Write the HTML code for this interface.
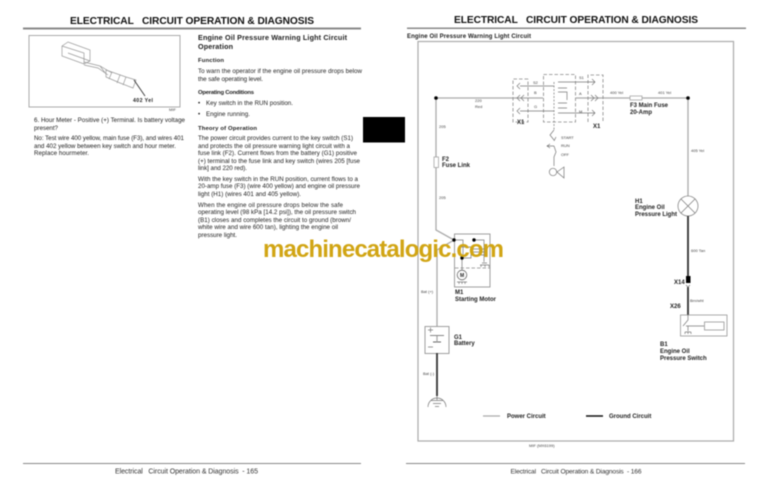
<!DOCTYPE html>
<html><head><meta charset="utf-8"><style>
html,body{margin:0;padding:0;background:#fff}
svg{display:block;filter:blur(.4px)}
text{font-family:"Liberation Sans",sans-serif;fill:#222}
.t{font-size:6.2px}
.b{font-size:5.9px;font-weight:bold}
.s{font-size:4px;fill:#444}
.h{font-size:10.2px;font-weight:bold;fill:#111}
.f{font-size:6.6px;fill:#333}
.l{font-size:6px;font-weight:bold}
.g{stroke:#aaa;stroke-width:1.3;fill:none}
.n{stroke:#777;stroke-width:.7;fill:none}
.d{stroke:#888;stroke-width:.8;fill:none;stroke-dasharray:3.5 2}
.k{stroke:#333;stroke-width:1.8;fill:none}
</style></head><body>
<svg width="768" height="497" viewBox="0 0 768 497" xmlns="http://www.w3.org/2000/svg">
<rect width="768" height="497" fill="#fff"/>
<text class="h" x="70" y="24" textLength="244">ELECTRICAL&#160;&#160;&#160;CIRCUIT OPERATION &amp; DIAGNOSIS</text>
<text class="h" x="454" y="23" textLength="244">ELECTRICAL&#160;&#160;&#160;CIRCUIT OPERATION &amp; DIAGNOSIS</text>
<rect x="23" y="27.5" width="338" height="2" fill="#888"/>
<rect x="407" y="27.5" width="339" height="1.5" fill="#888"/>
<rect x="29" y="35.5" width="151" height="71.5" fill="none" stroke="#aaa" stroke-width="1"/>
<g fill="none" stroke="#999" stroke-width=".7">
<path d="M62 46l6-4 22 8v11l-6 3-22-8z M68 53l22 8M62 46l22 7v11"/>
<path d="M84 62l16 4 12 7M84 65l14 3 10 7M100 66l6 8"/>
<path d="M106 70l20 7 10 3-3 8-13-5-14-6z M112 72l-3 7M120 75l-3 8M126 77l-3 8"/>
</g>
<path d="M134 80l11 16" stroke="#333" stroke-width=".9"/>
<text class="b" x="133" y="102" textLength="20" style="font-size:5.2px">402 Yel</text>
<text class="s" x="169" y="111">MIF</text>

<text class="t" x="34" y="122" textLength="151">6. Hour Meter - Positive (+) Terminal. Is battery voltage</text>
<text class="t" x="34" y="130" textLength="24">present?</text>
<text class="t" x="34" y="140" textLength="150">No: Test wire 400 yellow, main fuse (F3), and wires 401</text>
<text class="t" x="34" y="148" textLength="142">and 402 yellow between key switch and hour meter.</text>
<text class="t" x="34" y="155" textLength="55">Replace hourmeter.</text>

<text class="b" x="198" y="40" textLength="149" style="font-size:7.2px">Engine Oil Pressure Warning Light Circuit</text>
<text class="b" x="198" y="49" textLength="35" style="font-size:7.2px">Operation</text>
<text class="b" x="198" y="62" textLength="26">Function</text>
<text class="t" x="198" y="73" textLength="164">To warn the operator if the engine oil pressure drops below</text>
<text class="t" x="198" y="81" textLength="65">the safe operating level.</text>
<text class="b" x="198" y="94" textLength="56">Operating Conditions</text>
<text class="t" x="198" y="105">•</text><text class="t" x="206" y="105" textLength="87">Key switch in the RUN position.</text>
<text class="t" x="198" y="116">•</text><text class="t" x="206" y="116" textLength="44">Engine running.</text>
<text class="b" x="198" y="130" textLength="59">Theory of Operation</text>
<text class="t" x="198" y="140" textLength="155">The power circuit provides current to the key switch (S1)</text>
<text class="t" x="198" y="148" textLength="152">and protects the oil pressure warning light circuit with a</text>
<text class="t" x="198" y="155" textLength="159">fuse link (F2). Current flows from the battery (G1) positive</text>
<text class="t" x="198" y="163" textLength="162">(+) terminal to the fuse link and key switch (wires 205 [fuse</text>
<text class="t" x="198" y="170" textLength="49">link] and 220 red).</text>
<text class="t" x="198" y="181" textLength="160">With the key switch in the RUN position, current flows to a</text>
<text class="t" x="198" y="188" textLength="162">20-amp fuse (F3) (wire 400 yellow) and engine oil pressure</text>
<text class="t" x="198" y="196" textLength="103">light (H1) (wires 401 and 405 yellow).</text>
<text class="t" x="198" y="207" textLength="145">When the engine oil pressure drops below the safe</text>
<text class="t" x="198" y="214" textLength="158">operating level (98 kPa [14.2 psi]), the oil pressure switch</text>
<text class="t" x="198" y="222" textLength="153">(B1) closes and completes the circuit to ground (brown/</text>
<text class="t" x="198" y="229" textLength="140">white wire and wire 600 tan), lighting the engine oil</text>
<text class="t" x="198" y="237" textLength="39">pressure light.</text>

<rect x="363" y="117" width="42" height="25.5" fill="#000"/>

<text class="b" x="407" y="38" textLength="124" style="font-size:6px">Engine Oil Pressure Warning Light Circuit</text>
<rect x="418" y="41.5" width="315.5" height="399.5" fill="none" stroke="#aaa" stroke-width="1.2"/>

<!-- main power wires -->
<path class="g" d="M436 98H543M576 98H630M642 98H688V196M436 98V157M436 167V230L454 240L437 250V326"/>
<circle cx="436" cy="98" r="1.8" fill="#000"/>
<circle cx="688" cy="98" r="1.8" fill="#000"/>
<rect x="434" y="157" width="4.5" height="10.5" fill="#fff" stroke="#999" stroke-width=".7"/>
<rect x="630" y="96" width="12" height="4" fill="#fff" stroke="#999" stroke-width=".7"/>

<!-- switch S1 -->
<rect class="d" x="543.5" y="74.5" width="32" height="47.5"/>
<path class="d" d="M528 79H513V122H528V79M588 122V75H603V122"/>
<g class="n">
<path d="M520 86H554M520 83l-3 3 3 3M520 95l-3 3 3 3M524 95l-3 3 3 3M520 111H554M520 108l-3 3 3 3"/>
<path d="M558 82H595M592 79l3 3-3 3M595 95l3 3-3 3M591 95l3 3-3 3M558 113H595M592 110l3 3-3 3M558 88H567M558 92H567V100M558 103H567M558 108H567"/>
</g>
<path class="d" d="M554 82V130" style="stroke-dasharray:2 1.5"/>
<path class="n" d="M554 130l-4 5 4 5M556 137l-2 4M554 146l2 6-2 5V166M547 146H554M550 144l-3 2 3 2"/>
<circle cx="553" cy="172" r="3.7" fill="none" stroke="#777" stroke-width=".7"/>
<path class="n" d="M557 172l7-5V178z"/>

<text class="s" x="533" y="84">S2</text><text class="s" x="534" y="94">B</text><text class="s" x="534" y="108">G</text>
<text class="s" x="579" y="79">S1</text><text class="s" x="579" y="95">A</text><text class="s" x="579" y="113">M</text>
<text class="s" x="475" y="102">220</text><text class="s" x="475" y="108">Red</text>
<text class="s" x="439" y="128">205</text><text class="s" x="439" y="199">205</text>
<text class="s" x="561" y="139">START</text><text class="s" x="561" y="147">RUN</text><text class="s" x="561" y="156">OFF</text>
<text class="s" x="610" y="94">400 Yel</text><text class="s" x="658" y="94">401 Yel</text>
<text class="s" x="691" y="152">405 Yel</text><text class="s" x="691" y="252">600 Tan</text><text class="s" x="690" y="302">Brn/wht</text>
<text class="s" x="421" y="293">Bat (+)</text><text class="s" x="423" y="375">Bat (-)</text>
<text class="l" x="517" y="124">X1</text><text class="l" x="593" y="128">X1</text>
<text class="l" x="442" y="161">F2</text><text class="l" x="442" y="167">Fuse Link</text>
<text class="l" x="630" y="107">F3 Main Fuse</text><text class="l" x="630" y="114">20-Amp</text>
<text class="l" x="635" y="203">H1</text><text class="l" x="635" y="209">Engine Oil</text><text class="l" x="635" y="216">Pressure Light</text>
<text class="l" x="455" y="294">M1</text><text class="l" x="455" y="301">Starting Motor</text>
<text class="l" x="454" y="339">G1</text><text class="l" x="454" y="345">Battery</text>
<text class="l" x="660" y="346">B1</text><text class="l" x="660" y="353">Engine Oil</text><text class="l" x="660" y="360">Pressure Switch</text>
<text class="l" x="674" y="284">X14</text><text class="l" x="670" y="308">X26</text>

<!-- lamp -->
<circle cx="688" cy="206" r="10" fill="#fff" stroke="#888" stroke-width=".8"/>
<path class="n" d="M681 199L695 213M695 199L681 213"/>
<path class="k" d="M688 216V276M688 287V315"/>
<rect x="686" y="276" width="4.5" height="7" fill="#000"/>
<path class="n" d="M686 285l2 2 2-2"/>

<!-- B1 -->
<rect x="680.5" y="315" width="46.5" height="21" fill="none" stroke="#888" stroke-width=".7"/>
<rect x="704.5" y="322" width="19.5" height="8" fill="none" stroke="#888" stroke-width=".7"/>
<path class="n" d="M688 315V320L683 326M686 326H704M688 326V331M685 332H691M685 332v2M688 332v2M691 332v2"/>

<!-- motor -->
<rect x="454.5" y="234" width="35.5" height="53" fill="none" stroke="#888" stroke-width=".8"/>
<path class="d" d="M455 268H490"/>
<path class="n" d="M454 240H463V258M474 240H484V262M459 247H471V258H462M471 249H487M471 252H487M471 255H487M462 258V270M482 263H487M480 265H489M481 265v2M485 265v2M489 265v2M457 282H467M459 282v2M462 282v2M465 282v2"/>
<circle cx="454" cy="240" r="1.7" fill="#000"/><circle cx="474" cy="240" r="1.7" fill="#000"/><circle cx="462" cy="258" r="1.7" fill="#000"/>
<circle cx="462" cy="275" r="4.8" fill="#fff" stroke="#666" stroke-width=".8"/>
<text x="460" y="277" style="font-size:5px;font-weight:bold">M</text>

<!-- battery -->
<rect x="425" y="326.5" width="24" height="27" fill="none" stroke="#888" stroke-width=".8"/>
<path d="M430 335.5H444" stroke="#666" stroke-width=".8"/>
<path d="M433 342H441" stroke="#666" stroke-width="1"/>
<path class="g" d="M437 342V336"/>
<path class="n" d="M428 330H433M430.500 327.500V332.500M428 347H433"/>
<path class="k" d="M437 353V396"/>
<path class="n" d="M428 407A9 9 0 0 1 446 407M437 396V400M431 400.500H443M433 403.500H441M435 406.500H439"/>

<!-- legend -->
<path d="M483 416H500" stroke="#aaa" stroke-width="1.3"/>
<text class="l" x="507" y="418">Power Circuit</text>
<path d="M586 416H603" stroke="#111" stroke-width="1.5"/>
<text class="l" x="609" y="418">Ground Circuit</text>
<text class="s" x="529" y="447">MIF (MX6199)</text>

<!-- watermark -->
<text x="263" y="257" textLength="241" style="font-size:24px;font-weight:bold;fill:#d1a514">machinecatalogic.com</text>

<!-- footers -->
<rect x="23" y="463" width="338" height="1" fill="#888"/>
<rect x="406" y="463" width="339" height="1" fill="#888"/>
<text class="f" x="115" y="473.500" textLength="143" style="font-size:7px">Electrical&#160;&#160;&#160;Circuit Operation &amp; Diagnosis&#160;&#160;-&#160;165</text>
<text class="f" x="510.500" y="473.500" textLength="131">Electrical&#160;&#160;&#160;Circuit Operation &amp; Diagnosis&#160;&#160;-&#160;166</text>
</svg>
</body></html>
